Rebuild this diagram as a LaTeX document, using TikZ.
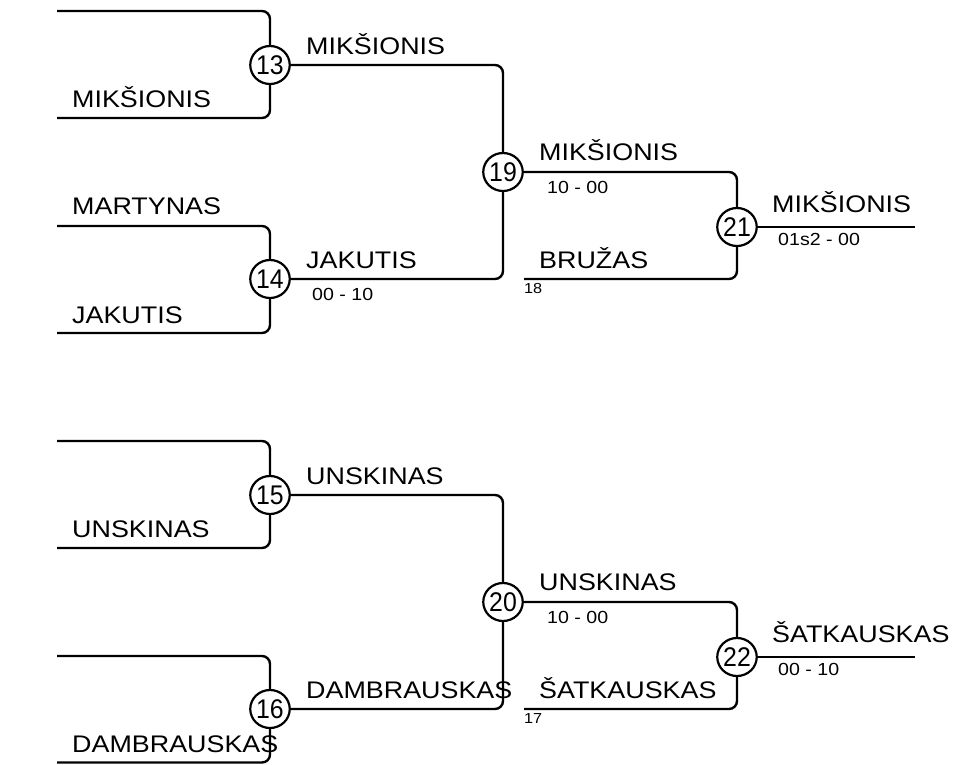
\documentclass[tikz,border=0pt]{standalone}
\usepackage{fontspec}
\setmainfont{Liberation Sans}[FakeStretch=1.12]
\newfontfamily\numfont{Liberation Sans}[FakeStretch=0.92]
\usetikzlibrary{shapes.geometric}
\tikzset{
  bout/.style={ellipse, draw, fill=white, line width=2.2pt, minimum width=39.5pt, minimum height=38pt, inner sep=0pt, font=\numfont\fontsize{27}{27}\selectfont},
  fighter/.style={anchor=base west, inner sep=0pt, font=\fontsize{24}{24}\selectfont},
  result/.style={anchor=base west, inner sep=0pt, font=\fontsize{17.5}{17.5}\selectfont},
  seedno/.style={anchor=base west, inner sep=0pt, font=\fontsize{14.5}{14.5}\selectfont},
  wire/.style={line width=2.4pt, rounded corners=8pt}
}

\begin{document}
\begin{tikzpicture}[x=1pt, y=-1pt]
			%%%%% START %%%%%
			\useasboundingbox (0, 0) rectangle (954, 764);
			
			% upper half
			\node[bout] (b13) at (270, 65) {13};
			\node[bout] (b14) at (270, 279) {14};
			\node[bout] (b19) at (503, 172) {19};
			\node[bout] (b21) at (737, 227) {21};
			
			\coordinate (in13a) at (57, 11);
			\coordinate (in13b) at (57, 118);
			\coordinate (in14a) at (57, 226);
			\coordinate (in14b) at (57, 333);
			\coordinate (in18) at (524, 279);
			\coordinate (out21) at (915, 227);
			
			\draw[wire] (in13a) -| (b13.north);
			\draw[wire] (in13b) -| (b13.south);
			\draw[wire] (in14a) -| (b14.north);
			\draw[wire] (in14b) -| (b14.south);
			\draw[wire] (b13.east) -| (b19.north);
			\draw[wire] (b14.east) -| (b19.south);
			\draw[wire] (b19.east) -| (b21.north);
			\draw[wire] (in18) -| (b21.south);
			\draw[wire] (b21.east) -- (out21);
			
			\node[fighter] (n13b) at (72, 107) {MIKŠIONIS};
			\node[fighter] (n14a) at (72, 214) {MARTYNAS};
			\node[fighter] (n14b) at (72, 323) {JAKUTIS};
			\node[fighter] (w13) at (306, 54) {MIKŠIONIS};
			\node[fighter] (w14) at (306, 268) {JAKUTIS};
			\node[result] (r14) at (312, 300) {00 - 10};
			\node[fighter] (w19) at (539, 160) {MIKŠIONIS};
			\node[result] (r19) at (547, 193) {10 - 00};
			\node[fighter] (n18) at (539, 268) {BRUŽAS};
			\node[seedno] (s18) at (524, 293) {18};
			\node[fighter] (w21) at (772, 212) {MIKŠIONIS};
			\node[result] (r21) at (778, 245) {01s2 - 00};
			
			% lower half
			\node[bout] (b15) at (270, 495) {15};
			\node[bout] (b16) at (270, 709) {16};
			\node[bout] (b20) at (503, 602) {20};
			\node[bout] (b22) at (737, 657) {22};
			
			\coordinate (in15a) at (57, 441);
			\coordinate (in15b) at (57, 548);
			\coordinate (in16a) at (57, 656);
			\coordinate (in16b) at (57, 762.5);
			\coordinate (in17) at (524, 709);
			\coordinate (out22) at (915, 657);
			
			\draw[wire] (in15a) -| (b15.north);
			\draw[wire] (in15b) -| (b15.south);
			\draw[wire] (in16a) -| (b16.north);
			\draw[wire] (in16b) -| (b16.south);
			\draw[wire] (b15.east) -| (b20.north);
			\draw[wire] (b16.east) -| (b20.south);
			\draw[wire] (b20.east) -| (b22.north);
			\draw[wire] (in17) -| (b22.south);
			\draw[wire] (b22.east) -- (out22);
			
			\node[fighter] (n15b) at (72, 537) {UNSKINAS};
			\node[fighter] (n16b) at (72, 752) {DAMBRAUSKAS};
			\node[fighter] (w15) at (306, 484) {UNSKINAS};
			\node[fighter] (w16) at (306, 698) {DAMBRAUSKAS};
			\node[fighter] (w20) at (539, 590) {UNSKINAS};
			\node[result] (r20) at (547, 623) {10 - 00};
			\node[fighter] (n17) at (539, 698) {ŠATKAUSKAS};
			\node[seedno] (s17) at (524, 723) {17};
			\node[fighter] (w22) at (772, 642) {ŠATKAUSKAS};
			\node[result] (r22) at (778, 675) {00 - 10};
			
			%%%%% END %%%%%
\end{tikzpicture}
\end{document}
